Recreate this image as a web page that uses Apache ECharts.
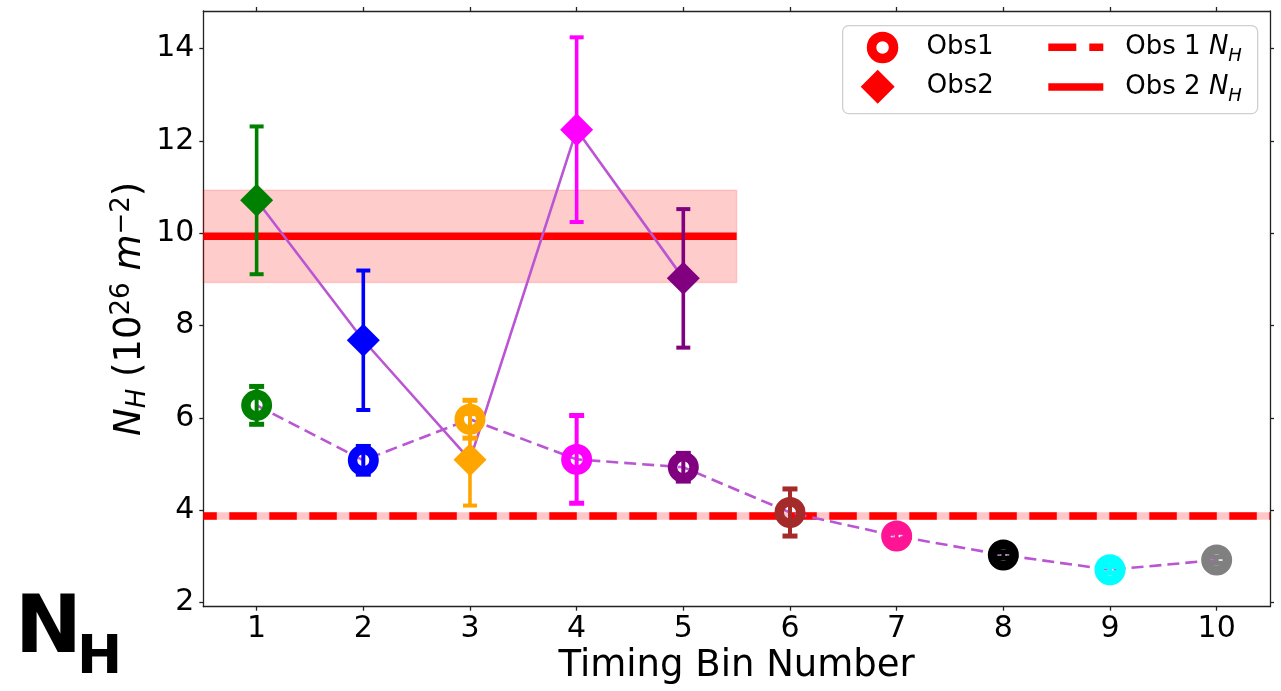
<!DOCTYPE html>
<html><head><meta charset="utf-8">
<script src="https://cdn.jsdelivr.net/npm/echarts@6/dist/echarts.min.js"></script>
<style>html,body{margin:0;padding:0;background:#fff}#c{width:1281px;height:691px}</style>
</head><body><div id="c"></div><script>
// ---- data ----
const bins1 = [1, 2, 3, 4, 5, 6, 7, 8, 9, 10];
const obs1Values = [6.27, 5.08, 5.97, 5.10, 4.93, 3.95, 3.44, 3.03, 2.71, 2.92];
const obs1Errors = [0.41, 0.30, 0.41, 0.95, 0.30, 0.51, 0.08, 0.07, 0.07, 0.07];
const bins2 = [1, 2, 3, 4, 5];
const obs2Values = [10.71, 7.68, 5.09, 12.24, 9.02];
const obs2Errors = [1.60, 1.51, 0.99, 2.00, 1.50];
const binColors = ['#008000', '#0000FF', '#FFA500', '#FF00FF', '#800080', '#A52A2A', '#FF1493', '#000000', '#00FFFF', '#808080'];
const obs1NH = 3.875, obs1NHErr = 0.08, obs1Span = [0.5, 10.5];
const obs2NH = 9.93, obs2NHErr = 1.0, obs2Span = [0.5, 5.5];
const xTicks = [1, 2, 3, 4, 5, 6, 7, 8, 9, 10];
const yTicks = [2, 4, 6, 8, 10, 12, 14];
const xRange = [0.5, 10.5];
const yRange = [1.91, 14.81];

const FONT = "'DejaVu Sans'";
const connColor = '#BA55D3';

function errRender(colors, capW, capT, lw) {
  return function (params, api) {
    const i = params.dataIndex;
    const x = api.value(0), lo = api.value(1), hi = api.value(2);
    const a = api.coord([x, lo]), b = api.coord([x, hi]);
    const c = colors[i];
    return {
      type: 'group', children: [
        { type: 'line', shape: { x1: a[0], y1: a[1], x2: b[0], y2: b[1] }, style: { stroke: c, lineWidth: lw } },
        { type: 'line', shape: { x1: a[0] - capW / 2, y1: a[1], x2: a[0] + capW / 2, y2: a[1] }, style: { stroke: c, lineWidth: capT } },
        { type: 'line', shape: { x1: b[0] - capW / 2, y1: b[1], x2: b[0] + capW / 2, y2: b[1] }, style: { stroke: c, lineWidth: capT } }
      ]
    };
  };
}

const legendText = { fontSize: 26, fontFamily: FONT, color: '#000', lineHeight: 36 };
const legendRich = {
  i: { fontSize: 26, fontFamily: FONT, fontStyle: 'italic', color: '#000', lineHeight: 36 },
  s: { fontSize: 18, fontFamily: FONT, fontStyle: 'italic', color: '#000', lineHeight: 24, verticalAlign: 'bottom' }
};
function nhFmt(name) { return name.replace('N_H', '{i|N}{s|H}'); }

const axisLineStyle = { color: '#222', width: 1.3 };

const option = {
  animation: false,
  backgroundColor: '#fff',
  textStyle: { fontFamily: FONT },
  grid: { left: 203.3, right: 11, top: 11, bottom: 84.3, containLabel: false },
  xAxis: [{
    type: 'value', min: xRange[0], max: xRange[1], position: 'bottom',
    axisLine: { show: true, onZero: false, lineStyle: axisLineStyle },
    axisTick: { show: true, length: 4, customValues: xTicks, lineStyle: axisLineStyle },
    axisLabel: { customValues: xTicks, fontSize: 30, fontFamily: FONT, color: '#000', margin: 8 },
    splitLine: { show: false },
    name: 'Timing Bin Number', nameLocation: 'middle', nameGap: 41, nameMoveOverlap: false,
    nameTextStyle: { fontSize: 37, fontFamily: FONT, color: '#000', verticalAlign: 'top' }
  }, {
    type: 'value', min: xRange[0], max: xRange[1], position: 'top',
    axisLine: { show: true, onZero: false, lineStyle: axisLineStyle },
    axisTick: { show: true, length: 4, customValues: xTicks, lineStyle: axisLineStyle },
    axisLabel: { show: false }, splitLine: { show: false }
  }],
  yAxis: [{
    type: 'value', min: yRange[0], max: yRange[1], position: 'left',
    axisLine: { show: true, onZero: false, lineStyle: axisLineStyle },
    axisTick: { show: true, length: 4, customValues: yTicks, lineStyle: axisLineStyle },
    axisLabel: { customValues: yTicks, fontSize: 30, fontFamily: FONT, color: '#000', margin: 9 },
    splitLine: { show: false },
    name: '{i|N}{sub|H} (10{sup|26} {i|m}{sup|\u22122})',
    nameLocation: 'middle', nameGap: 52, nameRotate: 90, nameMoveOverlap: false,
    nameTextStyle: {
      fontSize: 37, fontFamily: FONT, color: '#000', lineHeight: 42,
      rich: {
        i: { fontSize: 37, fontFamily: FONT, fontStyle: 'italic', color: '#000', lineHeight: 42 },
        sub: { fontSize: 26, fontFamily: FONT, fontStyle: 'italic', color: '#000', lineHeight: 28, verticalAlign: 'bottom' },
        sup: { fontSize: 26, fontFamily: FONT, color: '#000', lineHeight: 28, verticalAlign: 'top' }
      }
    }
  }, {
    type: 'value', min: yRange[0], max: yRange[1], position: 'right',
    axisLine: { show: true, onZero: false, lineStyle: axisLineStyle },
    axisTick: { show: true, length: 4, customValues: yTicks, lineStyle: axisLineStyle },
    axisLabel: { show: false }, splitLine: { show: false }
  }],
  legend: [
    { left: 866.8, top: 29.5, padding: 0, itemWidth: 22, itemHeight: 22, selectedMode: false, z: 6,
      data: [{ name: 'Obs1', icon: 'circle', itemStyle: { color: 'rgba(0,0,0,0)', borderColor: '#FF0000', borderWidth: 9.5, opacity: 1 } }],
      textStyle: Object.assign({}, legendText, { padding: [0, 0, 0, 28] }) },
    { left: 860.7, top: 68.7, padding: 0, itemWidth: 34, itemHeight: 34, selectedMode: false, z: 6,
      data: [{ name: 'Obs2', icon: 'diamond', itemStyle: { color: '#FF0000', borderWidth: 0, opacity: 1 } }],
      textStyle: Object.assign({}, legendText, { padding: [0, 0, 0, 27] }) },
    { left: 1048.3, top: 29.2, padding: 0, itemWidth: 55, itemHeight: 7.5, selectedMode: false, z: 6,
      data: [{ name: 'Obs 1 N_H', icon: 'path://M0,0H28V7.5H0Z M41,0H55V7.5H41Z', itemStyle: { color: '#FF0000', borderWidth: 0 } }],
      formatter: nhFmt,
      textStyle: Object.assign({}, legendText, { padding: [0, 0, 0, 17], rich: legendRich }) },
    { left: 1048.3, top: 69, padding: 0, itemWidth: 55, itemHeight: 7.5, selectedMode: false, z: 6,
      data: [{ name: 'Obs 2 N_H', icon: 'rect', itemStyle: { color: '#FF0000', borderWidth: 0 } }],
      formatter: nhFmt,
      textStyle: Object.assign({}, legendText, { padding: [0, 0, 0, 17], rich: legendRich }) }
  ],
  graphic: [
    { type: 'rect', left: 842, top: 25, z: 5, shape: { width: 415, height: 88, r: 6 },
      style: { fill: 'rgba(255,255,255,0.85)', stroke: '#cfcfcf', lineWidth: 1.3 } },
    { type: 'text', left: 15, top: 591.5, z: 10,
      style: { text: 'N', fontSize: 80, fontWeight: 'bold', fontFamily: FONT, fill: '#000' } },
    { type: 'text', left: 77, top: 632, z: 10,
      style: { text: 'H', fontSize: 54, fontWeight: 'bold', fontFamily: FONT, fill: '#000' } }
  ],
  series: [
    { type: 'scatter', name: 'Obs1', symbol: 'circle', symbolSize: 21.5, z: 6, silent: true,
      itemStyle: { color: 'rgba(0,0,0,0)', borderWidth: 9.5, opacity: 1 },
      data: bins1.map((b, i) => ({ value: [b, obs1Values[i]], itemStyle: { borderColor: binColors[i], color: 'rgba(0,0,0,0)', opacity: 1 } })) },
    { type: 'scatter', name: 'Obs2', symbol: 'diamond', symbolSize: 33, z: 6, silent: true,
      itemStyle: { opacity: 1 },
      data: bins2.map((b, i) => ({ value: [b, obs2Values[i]], itemStyle: { color: binColors[i], opacity: 1 } })) },
    { type: 'line', name: 'Obs 1 N_H', symbol: 'none', z: 2, silent: true,
      data: [[obs1Span[0], obs1NH], [obs1Span[1], obs1NH]],
      lineStyle: { color: '#FF0000', width: 7.5, type: [27.5, 12.5], dashOffset: 14 },
      markArea: { silent: true, itemStyle: { color: 'rgba(255,0,0,0.22)' },
        data: [[{ coord: [obs1Span[0], obs1NH - obs1NHErr] }, { coord: [obs1Span[1], obs1NH + obs1NHErr] }]] } },
    { type: 'line', name: 'Obs 2 N_H', symbol: 'none', z: 2, silent: true,
      data: [[obs2Span[0], obs2NH], [obs2Span[1], obs2NH]],
      lineStyle: { color: '#FF0000', width: 7.5 },
      markArea: { silent: true, itemStyle: { color: 'rgba(255,0,0,0.2)', borderColor: 'rgba(255,0,0,0.15)', borderWidth: 1.5 },
        data: [[{ coord: [obs2Span[0], obs2NH - obs2NHErr] }, { coord: [obs2Span[1], obs2NH + obs2NHErr] }]] } },
    { type: 'line', name: 'Obs1', symbol: 'none', z: 3, silent: true,
      data: bins1.map((b, i) => [b, obs1Values[i]]),
      lineStyle: { color: connColor, width: 2.6, type: [12, 6] } },
    { type: 'line', name: 'Obs2', symbol: 'none', z: 3, silent: true,
      data: bins2.map((b, i) => [b, obs2Values[i]]),
      lineStyle: { color: connColor, width: 2.6 } },
    { type: 'custom', name: 'Obs1', z: 4, silent: true,
      renderItem: errRender(binColors, 15, 5, 4),
      encode: { x: 0, y: [1, 2] },
      data: bins1.map((b, i) => [b, obs1Values[i] - obs1Errors[i], obs1Values[i] + obs1Errors[i]]) },
    { type: 'custom', name: 'Obs2', z: 4, silent: true,
      renderItem: errRender(binColors, 14, 4, 3.6),
      encode: { x: 0, y: [1, 2] },
      data: bins2.map((b, i) => [b, obs2Values[i] - obs2Errors[i], obs2Values[i] + obs2Errors[i]]) }
  ]
};
const chart = echarts.init(document.getElementById('c'), null, { renderer: 'canvas' });
chart.setOption(option);
</script></body></html>
